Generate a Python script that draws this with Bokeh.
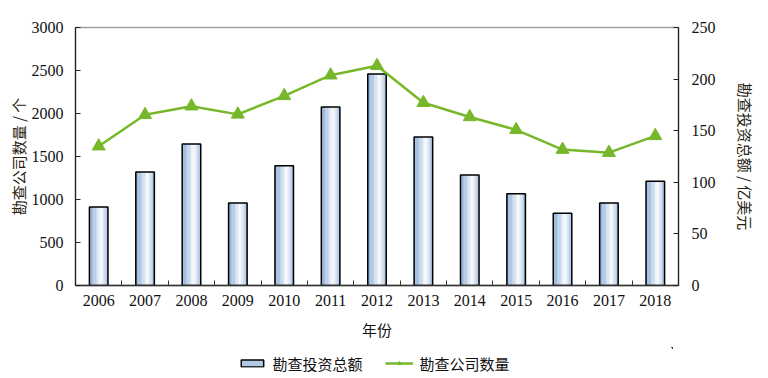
import numpy as np
from bokeh.plotting import figure
from bokeh.layouts import column
from bokeh.models import (Range1d, LinearAxis, FixedTicker, Legend, LegendItem,
                          ColumnDataSource)
from bokeh.transform import dodge
from bokeh.embed import file_html
from bokeh.resources import INLINE

years = ["2006", "2007", "2008", "2009", "2010", "2011", "2012",
         "2013", "2014", "2015", "2016", "2017", "2018"]
investment = [76, 110, 137, 80, 116, 173, 205, 144, 107, 89, 70, 80, 101]  # 亿美元
companies = [1620, 1985, 2085, 1990, 2205, 2445, 2555, 2125, 1960, 1810, 1580, 1545, 1740]  # 个

SERIF = "Liberation Serif"
CJK = "Noto Sans CJK SC"
GREEN = "#77b82a"

idx = list(range(len(years)))
main = figure(x_range=Range1d(-0.5, len(years) - 0.5), y_range=Range1d(0, 3000),
              frame_width=603, frame_height=258,
              min_border_left=75, min_border_right=74, min_border_top=27, min_border_bottom=62,
              x_axis_location=None, y_axis_location=None,
              output_backend="svg", toolbar_location=None)
main.grid.visible = False
main.outline_line_color = "#a0a0a0"
main.outline_line_width = 1.5
main.background_fill_color = "white"
main.border_fill_color = "white"

main.extra_y_ranges = {"inv": Range1d(0, 250)}

ly = LinearAxis(ticker=FixedTicker(ticks=[0, 500, 1000, 1500, 2000, 2500, 3000]),
                axis_label="勘查公司数量 / 个")
ry = LinearAxis(y_range_name="inv", ticker=FixedTicker(ticks=[0, 50, 100, 150, 200, 250]),
                axis_label="勘查投资总额 / 亿美元")
for ax, st in ((ly, 12), (ry, 13)):
    ax.major_tick_in = 5
    ax.major_tick_out = 0
    ax.minor_tick_line_color = None
    ax.axis_line_color = "#222222"
    ax.axis_line_width = 1.2
    ax.major_tick_line_color = "#222222"
    ax.major_label_text_font = SERIF
    ax.major_label_text_font_size = "16px"
    ax.major_label_text_color = "#111111"
    ax.major_label_standoff = st
    ax.axis_label_text_font = CJK
    ax.axis_label_text_font_size = "15px"
    ax.axis_label_text_font_style = "normal"
    ax.axis_label_text_color = "#2a1f14"
ly.axis_label_standoff = 0
ry.axis_label_standoff = 16
main.add_layout(ly, "left")
main.add_layout(ry, "right")

# tick-only axis at category boundaries
tx = LinearAxis(ticker=FixedTicker(ticks=[i + 0.5 for i in idx[:-1]]))
tx.major_tick_in = 5
tx.major_tick_out = 0
tx.minor_tick_line_color = None
tx.major_label_text_font_size = "0px"
tx.major_label_standoff = 0
tx.axis_line_color = "#333333"
tx.axis_line_width = 1.5
tx.major_tick_line_color = "#333333"
main.add_layout(tx, "below")

# label axis at category centres
cx = LinearAxis(ticker=FixedTicker(ticks=idx), axis_label="年份",
                major_label_overrides={i: y for i, y in zip(idx, years)})
cx.major_tick_line_color = None
cx.minor_tick_line_color = None
cx.axis_line_color = None
cx.major_label_text_font = SERIF
cx.major_label_text_font_size = "16px"
cx.major_label_text_color = "#111111"
cx.major_label_standoff = 3
cx.axis_label_text_font = CJK
cx.axis_label_text_font_size = "15px"
cx.axis_label_text_font_style = "normal"
cx.axis_label_text_color = "#111111"
cx.axis_label_standoff = 10
main.add_layout(cx, "below")

src = ColumnDataSource(dict(x=idx, year=years, inv=investment, comp=companies))
bar_w = 0.4
n = 14
stops = [(0.0, (0x84, 0xa8, 0xd3)), (0.35, (0xc0, 0xd3, 0xea)), (0.62, (0xfb, 0xfc, 0xfe)),
         (0.85, (0xc9, 0xd9, 0xec)), (1.0, (0x8c, 0xae, 0xd5))]
def col(t):
    for (t0, c0), (t1, c1) in zip(stops[:-1], stops[1:]):
        if t0 <= t <= t1:
            f = (t - t0) / (t1 - t0)
            c = [round(a + (b - a) * f) for a, b in zip(c0, c1)]
            return "#%02x%02x%02x" % tuple(c)
    return "#ffffff"
sw = bar_w / n
for i in range(n):
    off = -bar_w / 2 + sw * (i + 0.5)
    main.vbar(x=dodge("x", off), top="inv", bottom=0,
              width=sw * 1.08, source=src, y_range_name="inv",
              fill_color=col((i + 0.5) / n), line_color=None)
main.vbar(x="x", top="inv", bottom=0, width=bar_w, source=src, y_range_name="inv",
          fill_color=None, line_color="black", line_width=1.5)

main.line(x="x", y="comp", source=src, line_color=GREEN, line_width=2.5)
main.scatter(x="x", y="comp", source=src, marker="triangle", size=13,
             fill_color=GREEN, line_color=GREEN)

# legend strip below the chart (same data, drawn outside this strip's view)
leg = figure(width=752, height=31, x_range=Range1d(-100, -99), y_range=Range1d(-100, -99),
             min_border_left=0, min_border_right=0, min_border_top=0, min_border_bottom=0,
             x_axis_location=None, y_axis_location=None,
             output_backend="svg", toolbar_location=None)
leg.grid.visible = False
leg.outline_line_color = None
lb = leg.vbar(x="x", top="inv", width=0.4, source=src,
              fill_color="#b3c9e4", line_color="black", line_width=1.5)
ll = leg.line(x="x", y="comp", source=src, line_color=GREEN, line_width=2.5)
lm = leg.scatter(x="x", y="comp", source=src, marker="triangle", size=11,
                 fill_color=GREEN, line_color=GREEN)
legend = Legend(items=[LegendItem(label="勘查投资总额", renderers=[lb]),
                       LegendItem(label="勘查公司数量", renderers=[ll, lm])],
                orientation="horizontal", location="center")
legend.label_text_font = CJK
legend.label_text_font_size = "15px"
legend.label_text_color = "#111111"
legend.border_line_color = None
legend.background_fill_alpha = 0
legend.glyph_width = 28
legend.glyph_height = 9
legend.label_standoff = 7
legend.spacing = 22
legend.padding = 0
legend.margin = 0
leg.add_layout(legend, "center")

p = column(main, leg, spacing=0)

open("out.html", "w").write(file_html(p, INLINE))
